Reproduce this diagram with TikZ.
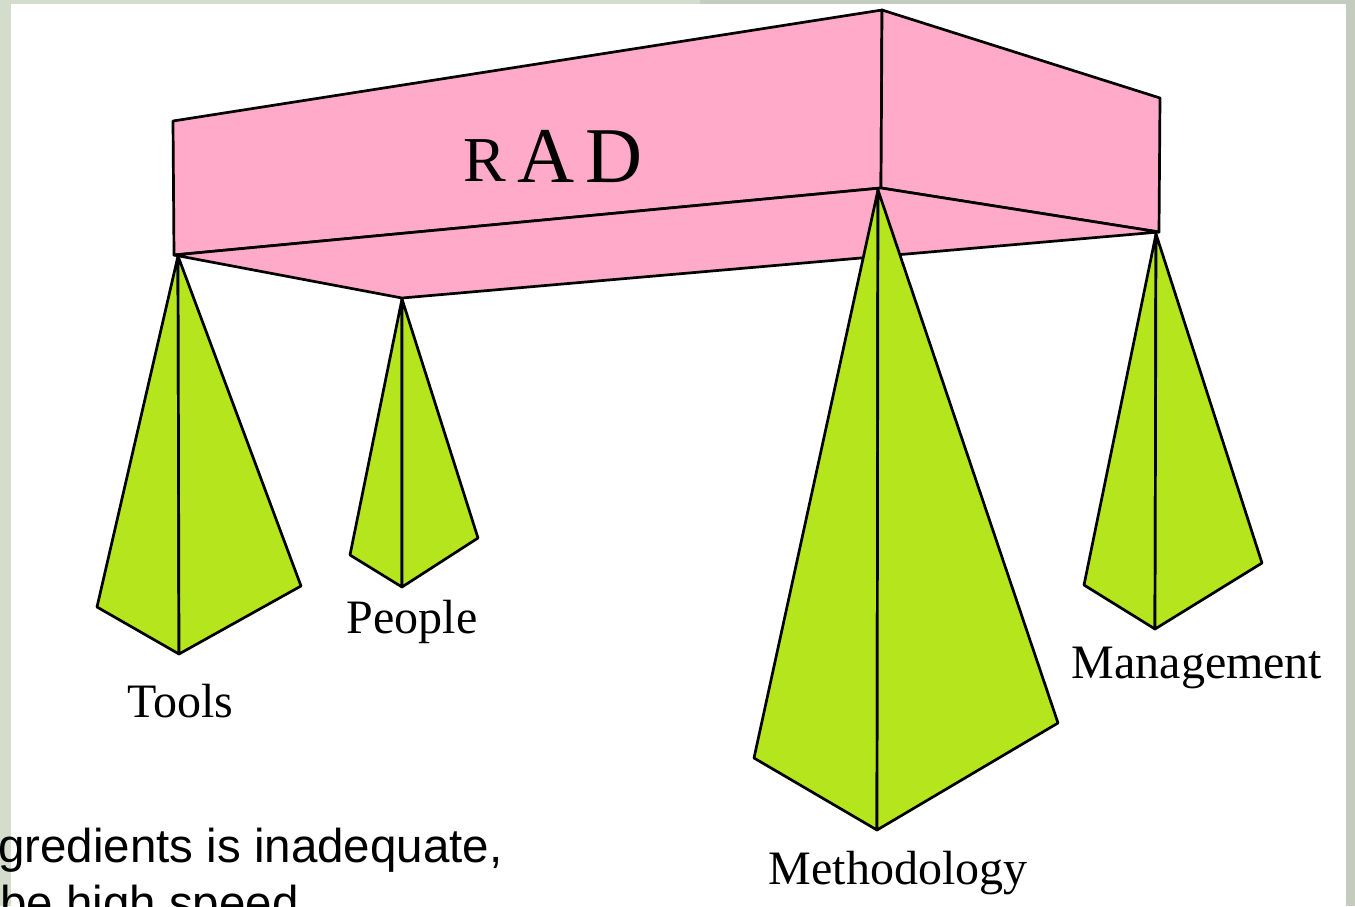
\documentclass[tikz,border=0pt]{standalone}
\usepackage{fontspec}
\setmainfont{Liberation Serif}
\newfontfamily\arialfont{Liberation Sans}
\definecolor{pinkface}{RGB}{255,170,200}
\definecolor{greenface}{RGB}{181,230,29}
\definecolor{stripL}{RGB}{212,221,203}
\definecolor{stripR}{RGB}{195,204,190}
\tikzset{
  boxface/.style={fill=pinkface, draw=black, line width=2.7pt, line join=round},
  pyrface/.style={fill=greenface, draw=black, line width=2.7pt, line join=round},
  lbl/.style={anchor=base, inner sep=0pt, font=\fontsize{48}{54}\selectfont},
  radl/.style={anchor=base, inner sep=0pt},
  bodytext/.style={anchor=base west, inner sep=0pt, font=\arialfont\fontsize{47.5}{54}\selectfont}
}
\begin{document}
\begin{tikzpicture}[x=1pt,y=-1pt]
\useasboundingbox (0,0) rectangle (1355,906);
% background
\fill[stripL] (0,0) rectangle (700,906);
\fill[stripR] (700,0) rectangle (1355,906);
\fill[white] (11,4) rectangle (1346,906);

% box vertices
\coordinate (FTL) at (173,121);
\coordinate (TC) at (882,10);
\coordinate (TR) at (1160,98);
\coordinate (FBL) at (174,255);
\coordinate (BC) at (881,188);
\coordinate (BR) at (1159,232);
\coordinate (BB) at (402,298);

% box faces
\draw[boxface] (FTL) -- (TC) -- (BC) -- (FBL) -- cycle;
\draw[boxface] (TC) -- (TR) -- (BR) -- (BC) -- cycle;
\draw[boxface] (FBL) -- (BC) -- (BR) -- (BB) -- cycle;

% RAD text
\node[radl, font=\fontsize{64}{70}\selectfont] (radR) at (485,181) {R};
\node[radl, font=\fontsize{79}{86}\selectfont] (radA) at (546,182) {A};
\node[radl, font=\fontsize{79}{86}\selectfont] (radD) at (614,182) {D};

% Tools pyramid
\coordinate (tA) at (178,256);
\coordinate (tL) at (97,607);
\coordinate (tF) at (179,654);
\coordinate (tR) at (301,586);
\draw[pyrface] (tA) -- (tL) -- (tF) -- cycle;
\draw[pyrface] (tA) -- (tF) -- (tR) -- cycle;

% People pyramid
\coordinate (pA) at (402,299);
\coordinate (pL) at (350,555);
\coordinate (pF) at (402,587);
\coordinate (pR) at (478,538);
\draw[pyrface] (pA) -- (pL) -- (pF) -- cycle;
\draw[pyrface] (pA) -- (pF) -- (pR) -- cycle;

% Methodology pyramid
\coordinate (mA) at (878,190);
\coordinate (mL) at (754,758);
\coordinate (mF) at (877,830);
\coordinate (mR) at (1058,723);
\draw[pyrface] (mA) -- (mL) -- (mF) -- cycle;
\draw[pyrface] (mA) -- (mF) -- (mR) -- cycle;

% Management pyramid
\coordinate (gA) at (1156,234);
\coordinate (gL) at (1084,585);
\coordinate (gF) at (1155,629);
\coordinate (gR) at (1262,563);
\draw[pyrface] (gA) -- (gL) -- (gF) -- cycle;
\draw[pyrface] (gA) -- (gF) -- (gR) -- cycle;

% labels
\node[lbl] (tools) at (180,717) {Tools};
\node[lbl] (people) at (412,633) {People};
\node[lbl] (method) at (898,884) {Methodology};
\node[lbl] (manage) at (1197,678) {Management};

% clipped slide text
\node[bodytext] (line1) at (-2,862) {gredients is inadequate,};
\node[bodytext] (line2) at (0,919) {be high speed};
\end{tikzpicture}
\end{document}
